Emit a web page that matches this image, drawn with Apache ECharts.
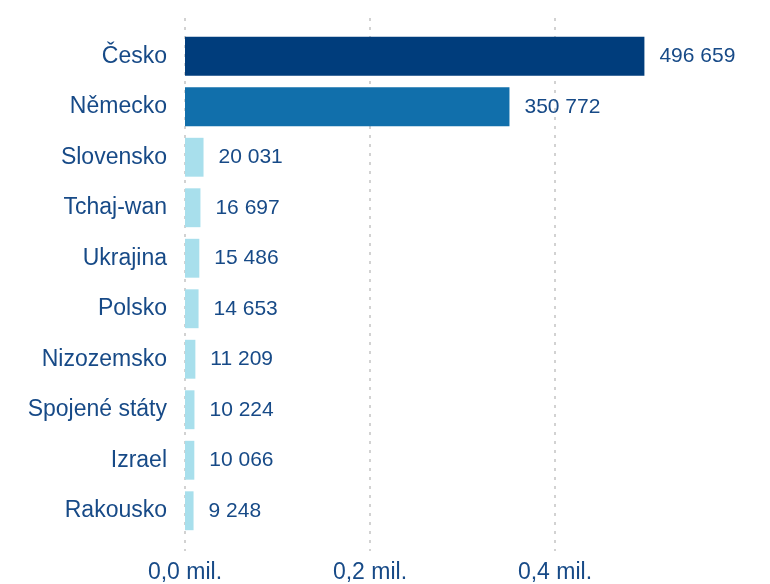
<!DOCTYPE html>
<html>
<head>
<meta charset="utf-8">
<script src="https://cdn.jsdelivr.net/npm/echarts@6/dist/echarts.min.js"></script>
<style>
html,body{margin:0;padding:0;background:#fff;}
#chart{width:770px;height:584px;}
</style>
</head>
<body>
<div id="chart"></div>
<script>
const categories = ['Česko','Německo','Slovensko','Tchaj-wan','Ukrajina','Polsko','Nizozemsko','Spojené státy','Izrael','Rakousko'];
const values = [496659, 350772, 20031, 16697, 15486, 14653, 11209, 10224, 10066, 9248];
const barColors = ['#003d7c','#116fab','#a8dfec','#a8dfec','#a8dfec','#a8dfec','#a8dfec','#a8dfec','#a8dfec','#a8dfec'];
const tickValues = [0, 200000, 400000];

const textColor = '#174a87';
const font = "'Liberation Sans', Arial, sans-serif";
const xMax = 550000;
const left = 185;
const right = 770 - left - 508.75;

function fmtNum(v){ return String(v).replace(/\B(?=(\d{3})+(?!\d))/g, ' '); }
function fmtMil(v){
  if (tickValues.indexOf(v) < 0) return '';
  return (v/1e6).toFixed(1).replace('.', ',') + ' mil.';
}

const chart = echarts.init(document.getElementById('chart'), null, {renderer:'canvas'});
chart.setOption({
  animation: false,
  backgroundColor: '#fff',
  grid: [
    {left: left, right: right, top: 18, bottom: 32},
    {left: left, right: right, top: 31, bottom: 48}
  ],
  xAxis: [
    {
      gridIndex: 0, type: 'value', min: 0, max: xMax, interval: 200000,
      axisLine: {show: false}, axisTick: {show: false},
      splitLine: {show: true, showMaxLine: false, lineStyle: {color: '#c4c4c4', type: [3, 6], width: 1.5}},
      axisLabel: {color: textColor, fontSize: 23, fontFamily: font, margin: 10, formatter: fmtMil}
    },
    {
      gridIndex: 1, type: 'value', min: 0, max: xMax, interval: 200000,
      show: false, splitLine: {show: false}
    }
  ],
  yAxis: [
    {gridIndex: 0, type: 'value', show: false, splitLine: {show: false}},
    {
      gridIndex: 1, type: 'category', data: categories, inverse: true,
      axisLine: {show: false}, axisTick: {show: false}, splitLine: {show: false},
      axisLabel: {color: textColor, fontSize: 23, fontFamily: font, margin: 18}
    }
  ],
  series: [{
    type: 'bar', xAxisIndex: 1, yAxisIndex: 1,
    data: values.map((v, i) => ({value: v, itemStyle: {color: barColors[i]}})),
    barCategoryGap: '23%',
    label: {show: true, position: 'right', distance: 15, color: textColor, fontSize: 21, fontFamily: font,
      formatter: p => fmtNum(p.value)}
  }]
});
</script>
</body>
</html>
